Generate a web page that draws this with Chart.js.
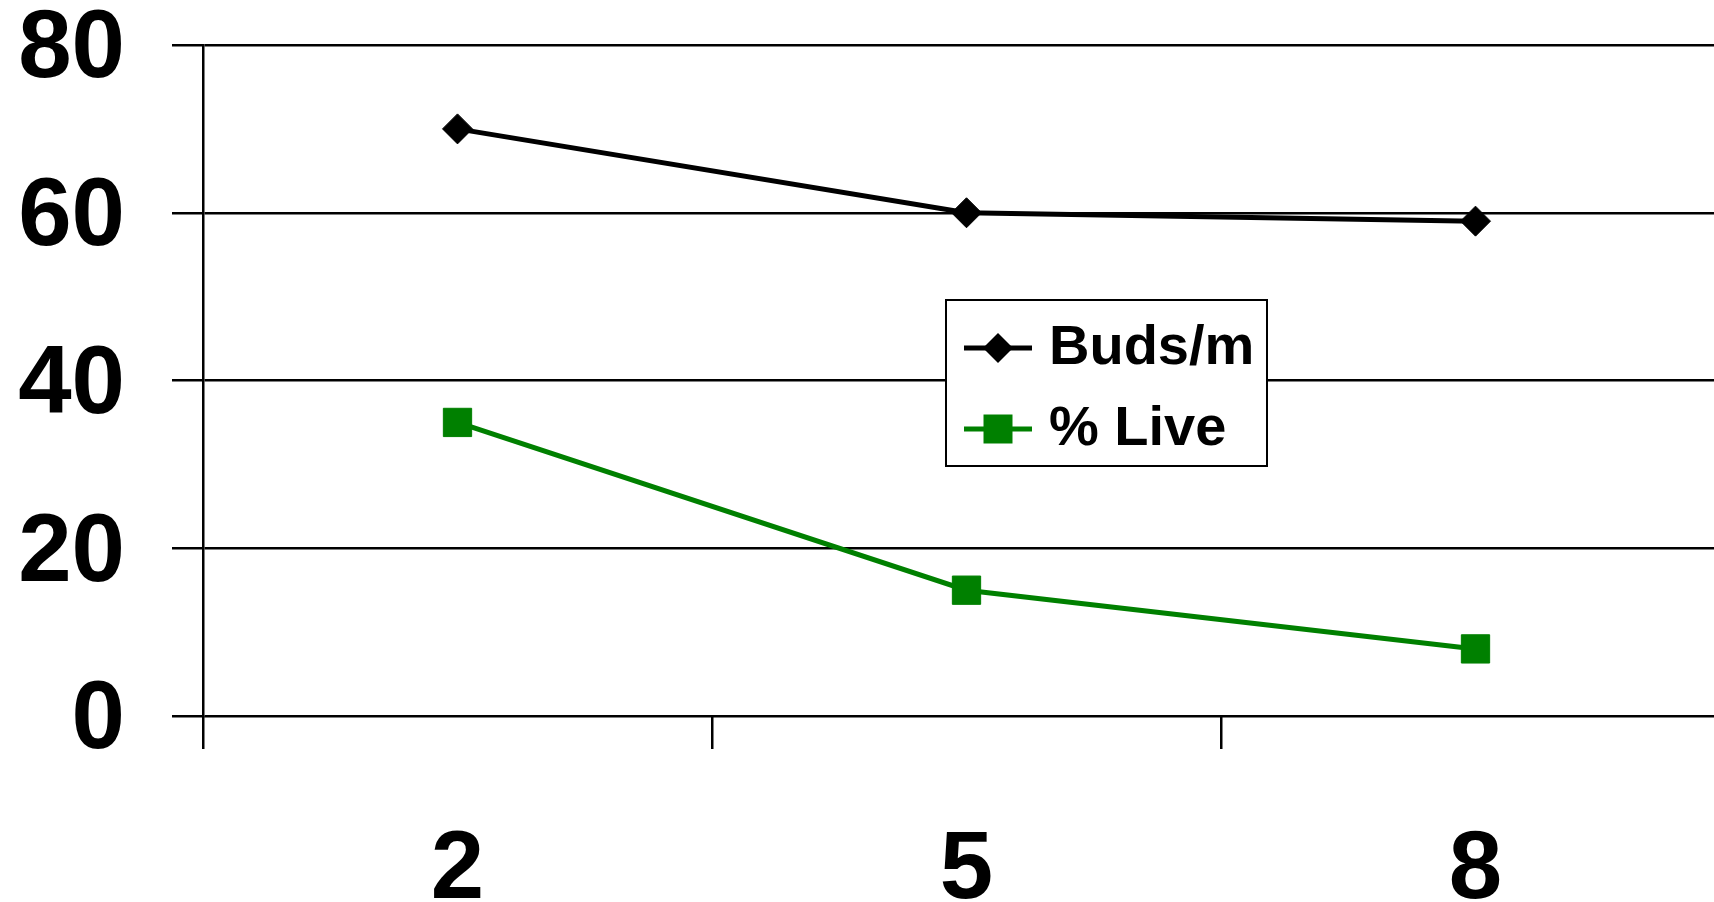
<!DOCTYPE html>
<html>
<head>
<meta charset="utf-8">
<script src="https://cdn.jsdelivr.net/npm/chart.js@4/dist/chart.umd.min.js"></script>
<style>
  html, body { margin: 0; padding: 0; background: #ffffff; overflow: hidden; }
  #wrap { position: absolute; left: 0; top: 0; width: 1760px; height: 930px; }
</style>
</head>
<body>
<div id="wrap"><canvas id="chart"></canvas></div>
<script>
// Categories along the x axis
const categories = ['2', '5', '8'];
// Series values
const budsPerMetre = [70, 60, 59];
const percentLive = [35, 15, 8];
// Y axis range and tick spacing
const yMin = 0;
const yMax = 80;
const yStep = 20;

const FONT = '"Liberation Sans", Arial, sans-serif';

// Nudge the y tick labels down a little so the digits sit centred on their grid lines
const yLabelNudge = {
  id: 'yLabelNudge',
  beforeDraw(chart) {
    const items = chart.scales.y.getLabelItems();
    if (!items._nudged) {
      items.forEach(it => { it.options.translation[1] += 6; });
      items._nudged = true;
    }
  }
};

// Boxed legend drawn inside the plot, to the right of the middle category
const boxedLegend = {
  id: 'boxedLegend',
  afterDraw(chart) {
    const ctx = chart.ctx;
    const box = { x: 946, y: 300, w: 321, h: 166 };
    ctx.save();
    ctx.fillStyle = '#ffffff';
    ctx.fillRect(box.x, box.y, box.w, box.h);
    ctx.strokeStyle = '#000000';
    ctx.lineWidth = 2;
    ctx.strokeRect(box.x, box.y, box.w, box.h);

    const rows = [348, 429];
    chart.data.datasets.forEach((ds, i) => {
      const y = rows[i];
      const x0 = 964, x1 = 1032, cx = 998;
      ctx.strokeStyle = ds.borderColor;
      ctx.lineWidth = 5;
      ctx.beginPath();
      ctx.moveTo(x0, y);
      ctx.lineTo(x1, y);
      ctx.stroke();
      ctx.fillStyle = ds.pointBackgroundColor;
      ctx.beginPath();
      if (ds.pointStyle === 'rectRot') {
        const r = 15;
        ctx.moveTo(cx, y - r);
        ctx.lineTo(cx + r, y);
        ctx.lineTo(cx, y + r);
        ctx.lineTo(cx - r, y);
        ctx.closePath();
      } else {
        const h = 14.5;
        ctx.rect(cx - h, y - h, 2 * h, 2 * h);
      }
      ctx.fill();

      ctx.fillStyle = '#000000';
      ctx.font = 'bold 56px ' + FONT;
      ctx.textAlign = 'left';
      ctx.textBaseline = 'middle';
      ctx.fillText(ds.label, 1049, y + 1);
    });
    ctx.restore();
  }
};

new Chart(document.getElementById('chart'), {
  type: 'line',
  data: {
    labels: categories,
    datasets: [
      {
        label: 'Buds/m',
        data: budsPerMetre,
        borderColor: '#000000',
        backgroundColor: '#000000',
        pointBackgroundColor: '#000000',
        pointBorderColor: '#000000',
        borderWidth: 5,
        pointStyle: 'rectRot',
        pointRadius: 15,
        pointBorderWidth: 1,
        tension: 0
      },
      {
        label: '% Live',
        data: percentLive,
        borderColor: '#008000',
        backgroundColor: '#008000',
        pointBackgroundColor: '#008000',
        pointBorderColor: '#008000',
        borderWidth: 5,
        pointStyle: 'rect',
        pointRadius: 20,
        pointBorderWidth: 1,
        tension: 0
      }
    ]
  },
  options: {
    responsive: true,
    maintainAspectRatio: false,
    animation: false,
    layout: {
      autoPadding: false,
      padding: { left: 19, right: 30, top: 45, bottom: 7 }
    },
    plugins: {
      legend: { display: false },
      tooltip: { enabled: false }
    },
    scales: {
      x: {
        type: 'category',
        offset: true,
        grid: {
          offset: true,
          drawOnChartArea: false,
          drawTicks: true,
          tickLength: 33,
          color: '#000000',
          lineWidth: 2.5
        },
        border: { display: false },
        ticks: {
          color: '#000000',
          padding: 65,
          maxRotation: 0,
          font: { family: FONT, size: 96, weight: 'bold' }
        },
        afterFit(scale) {
          scale.height = 207;
          scale.paddingLeft = 0;
          scale.paddingRight = 0;
        }
      },
      y: {
        min: yMin,
        max: yMax,
        grid: {
          drawTicks: true,
          tickLength: 31,
          color: '#000000',
          lineWidth: 2.5
        },
        border: { display: true, color: '#000000', width: 2.5 },
        ticks: {
          stepSize: yStep,
          color: '#000000',
          padding: 47,
          font: { family: FONT, size: 96, weight: 'bold' }
        },
        afterFit(scale) {
          scale.width = 184;
          scale.paddingTop = 0;
          scale.paddingBottom = 0;
        }
      }
    }
  },
  plugins: [yLabelNudge, boxedLegend]
});
</script>
</body>
</html>
